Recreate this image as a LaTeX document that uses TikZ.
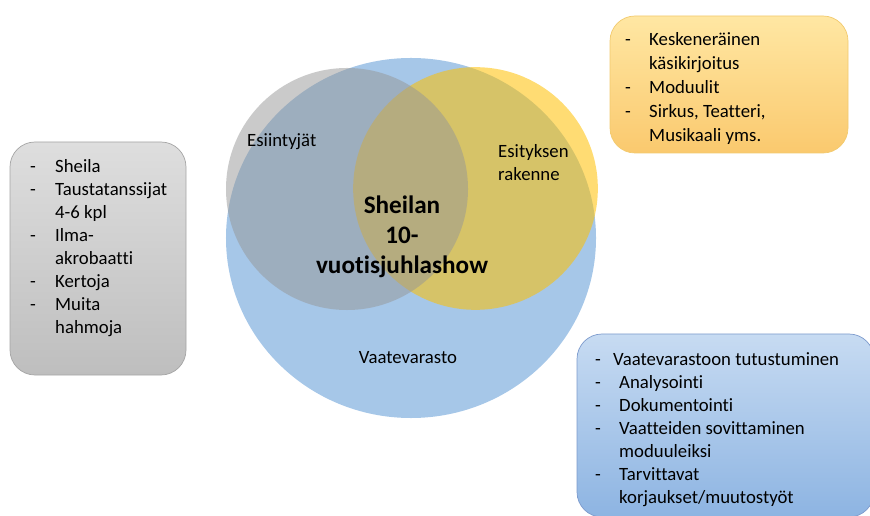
\documentclass[tikz,border=0pt]{standalone}
\usepackage{fontspec}
\setmainfont{Carlito}[Ligatures=NoCommon]
\usetikzlibrary{calc}

\definecolor{vaateblue}{RGB}{166,199,232}
\definecolor{rakenneyellow}{RGB}{255,192,0}
\definecolor{esiintgray}{RGB}{150,150,150}
\definecolor{grayboxtop}{RGB}{222,222,222}
\definecolor{grayboxbot}{RGB}{190,190,190}
\definecolor{grayboxline}{RGB}{165,165,165}
\definecolor{orangetop}{RGB}{255,231,163}
\definecolor{orangebot}{RGB}{250,201,110}
\definecolor{orangeline}{RGB}{242,202,110}
\definecolor{bluetop}{RGB}{199,219,242}
\definecolor{bluebot}{RGB}{141,180,226}
\definecolor{blueline}{RGB}{125,155,205}

\tikzset{
  listbox/.style={draw, line width=0.6pt, rounded corners=0.75cm},
  listtext/.style={anchor=north west, inner sep=0pt, font=\fontsize{16}{19.6}\selectfont},
  venntext/.style={inner sep=0pt, font=\fontsize{16}{19.6}\selectfont}
}

\begin{document}
\begin{tikzpicture}[x=0.03cm, y=-0.03cm]
        \useasboundingbox (0,0) rectangle (870,516);
        \clip (0,0) rectangle (870,516);

        % venn circles
        \fill[vaateblue] (411,238) ellipse [x radius=5.55cm, y radius=5.4cm];
        \fill[rakenneyellow, fill opacity=0.55] (475.5,188.5) ellipse [x radius=3.67cm, y radius=3.64cm];
        \fill[esiintgray, fill opacity=0.5] (347,189) ellipse [x radius=3.63cm, y radius=3.63cm];

        \node[venntext, anchor=base west] (esiintyjat) at (247,147) {Esiintyjät};
        \node[venntext, anchor=north west] (rakenne) at (498,141)
            {\begin{tabular}{@{}l@{}}Esityksen\\ rakenne\end{tabular}};
        \node[venntext, anchor=base] (vaatevarasto) at (408,363) {Vaatevarasto};
        \node[inner sep=0pt, anchor=north, font=\bfseries\fontsize{21.5}{25.6}\selectfont] (show) at (402,192)
            {\begin{tabular}{@{}c@{}}Sheilan\\ 10-\\ vuotisjuhlashow\end{tabular}};

        % boxes
        \draw[listbox, draw=grayboxline, top color=grayboxtop, bottom color=grayboxbot] (10,142) rectangle (186,375);
        \draw[listbox, draw=orangeline, top color=orangetop, bottom color=orangebot] (610,16) rectangle (848,153);
        \draw[listbox, draw=blueline, top color=bluetop, bottom color=bluebot] (577,334) rectangle (874,517);

        \node[listtext] (esiintyjalista) at (30,156)
            {\begin{tabular}{@{}p{0.75cm}@{}l@{}}
              - & Sheila\\
              - & Taustatanssijat\\
                & 4-6 kpl\\
              - & Ilma-\\
                & akrobaatti\\
              - & Kertoja\\
              - & Muita\\
                & hahmoja
            \end{tabular}};

        \node[listtext, font=\fontsize{16}{20.5}\selectfont] (rakennelista) at (625,28)
            {\begin{tabular}{@{}p{0.72cm}@{}l@{}}
              - & Keskeneräinen\\
                & käsikirjoitus\\
              - & Moduulit\\
              - & Sirkus, Teatteri,\\
                & Musikaali yms.
            \end{tabular}};

        \node[listtext] (vaatelista) at (595,349)
            {\begin{tabular}{@{}p{0.72cm}@{}l@{}}
              - & \hspace{-0.18cm}Vaatevarastoon tutustuminen\\
              - & Analysointi\\
              - & Dokumentointi\\
              - & Vaatteiden sovittaminen\\
                & moduuleiksi\\
              - & Tarvittavat\\
                & korjaukset/muutostyöt
            \end{tabular}};
\end{tikzpicture}
\end{document}
